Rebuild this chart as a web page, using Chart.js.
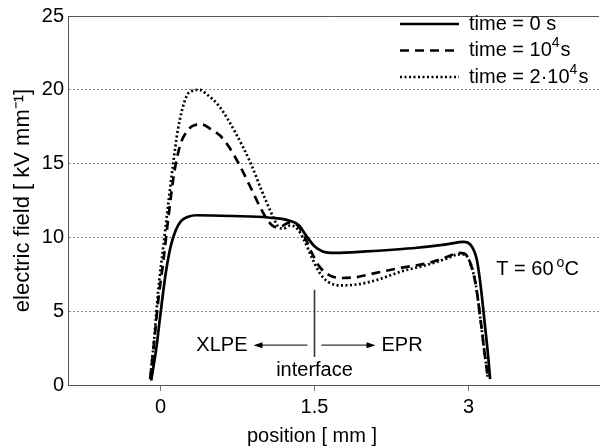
<!DOCTYPE html>
<html>
<head>
<meta charset="utf-8">
<script src="https://cdn.jsdelivr.net/npm/chart.js@4"></script>
<style>
  html, body { margin: 0; padding: 0; background: #fff; }
  #wrap { width: 600px; height: 448px; }
</style>
</head>
<body>
<div id="wrap"><canvas id="fieldChart" width="600" height="448"></canvas></div>
<script>
// field profile across the XLPE / EPR insulation, three instants
const seriesNames = ['time = 0 s', 'time = 10^4s', 'time = 2\u00b710^4s'];

const posT0 = [-0.09, -0.04, 0.0, 0.05, 0.1, 0.15, 0.2, 0.27, 0.35, 0.7, 1.05, 1.25, 1.35, 1.42, 1.5, 1.58, 1.7, 2.0, 2.5, 2.8, 2.95, 3.02, 3.08, 3.12, 3.16, 3.19, 3.21];
const fieldT0 = [0.3, 2.5, 4.8, 7.5, 9.4, 10.5, 11.1, 11.4, 11.5, 11.45, 11.35, 11.15, 10.8, 10.1, 9.4, 9.05, 8.95, 9.05, 9.3, 9.55, 9.7, 9.5, 8.5, 6.6, 4.0, 2.0, 0.4];

const posT1 = [-0.1, -0.06, -0.02, 0.03, 0.08, 0.13, 0.19, 0.26, 0.33, 0.4, 0.5, 0.58, 0.67, 0.77, 0.87, 0.96, 1.05, 1.12, 1.18, 1.25, 1.32, 1.4, 1.47, 1.55, 1.63, 1.75, 1.9, 2.1, 2.35, 2.6, 2.8, 2.9, 2.96, 3.02, 3.07, 3.11, 3.15, 3.19];
const fieldT1 = [0.4, 3.0, 5.8, 8.5, 11.5, 14.2, 16.2, 17.2, 17.6, 17.65, 17.3, 16.9, 16.1, 14.9, 13.5, 12.2, 11.1, 10.7, 10.75, 11.0, 10.9, 10.1, 9.0, 8.0, 7.5, 7.25, 7.3, 7.6, 7.95, 8.25, 8.7, 8.95, 8.9, 8.2, 6.8, 4.8, 2.5, 0.4];

const posT2 = [-0.1, -0.06, -0.02, 0.03, 0.08, 0.12, 0.17, 0.25, 0.32, 0.38, 0.45, 0.57, 0.73, 0.88, 0.99, 1.09, 1.15, 1.2, 1.26, 1.33, 1.4, 1.47, 1.55, 1.63, 1.75, 1.9, 2.1, 2.35, 2.6, 2.8, 2.9, 2.96, 3.02, 3.07, 3.11, 3.15, 3.19];
const fieldT2 = [0.4, 3.2, 6.5, 9.5, 12.5, 14.8, 17.3, 19.5, 19.95, 20.0, 19.7, 18.9, 17.1, 15.0, 13.1, 11.5, 10.7, 10.6, 10.8, 10.6, 9.8, 8.7, 7.6, 7.0, 6.75, 6.8, 7.1, 7.7, 8.15, 8.6, 8.85, 8.85, 8.2, 6.8, 4.8, 2.5, 0.4];

const xTicks = [0, 1.5, 3];
const yTicks = [0, 5, 10, 15, 20, 25];

const FONT = '"Liberation Sans", Arial, sans-serif';
const toPoints = (xs, ys) => xs.map((v, i) => ({ x: v, y: ys[i] }));

// text with "^c" marking a superscript character
function drawRich(ctx, str, x, y, size) {
  const parts = str.split(/\^(\S)/);
  let cx = x;
  parts.forEach((p, i) => {
    if (!p) return;
    const sup = i % 2 === 1;
    ctx.font = (sup ? Math.round(size * 0.68) : size) + 'px ' + FONT;
    ctx.fillText(p, cx, sup ? y - size * 0.35 : y);
    cx += ctx.measureText(p).width + (sup ? 1 : 0);
  });
}

function arrow(ctx, x0, x1, y) {
  const dir = Math.sign(x1 - x0);
  ctx.beginPath();
  ctx.moveTo(x0, y);
  ctx.lineTo(x1 - dir * 8, y);
  ctx.stroke();
  ctx.beginPath();
  ctx.moveTo(x1, y);
  ctx.lineTo(x1 - dir * 9, y - 3);
  ctx.lineTo(x1 - dir * 9, y + 3);
  ctx.closePath();
  ctx.fill();
}

const overlay = {
  id: 'overlay',
  afterDraw(chart) {
    const { ctx, chartArea: a, scales: { x, y } } = chart;
    ctx.save();

    // upper frame line
    ctx.strokeStyle = '#555';
    ctx.lineWidth = 1;
    ctx.beginPath();
    ctx.moveTo(a.left, a.top + 0.5);
    ctx.lineTo(a.right, a.top + 0.5);
    ctx.stroke();

    // legend, top right inside the axes
    ctx.fillStyle = '#000';
    ctx.textBaseline = 'middle';
    chart.data.datasets.forEach((ds, i) => {
      const ly = 24 + i * 26.5;
      ctx.strokeStyle = ds.borderColor;
      ctx.lineWidth = ds.borderWidth;
      ctx.setLineDash(ds.borderDash || []);
      ctx.beginPath();
      ctx.moveTo(400, ly);
      ctx.lineTo(459, ly);
      ctx.stroke();
      ctx.setLineDash([]);
      drawRich(ctx, ds.label, 469, ly, 20);
    });

    // interface marker and material labels
    const ix = x.getPixelForValue(1.5);
    const ay = y.getPixelForValue(2.7);
    ctx.strokeStyle = '#333';
    ctx.fillStyle = '#000';
    ctx.lineWidth = 1.6;
    ctx.beginPath();
    ctx.moveTo(ix, y.getPixelForValue(6.45));
    ctx.lineTo(ix, y.getPixelForValue(1.9));
    ctx.stroke();
    ctx.lineWidth = 1.2;
    arrow(ctx, ix - 7, ix - 61, ay);
    arrow(ctx, ix + 7, ix + 61, ay);

    ctx.font = '20px ' + FONT;
    ctx.textAlign = 'right';
    ctx.fillText('XLPE', ix - 67, ay);
    ctx.textAlign = 'left';
    ctx.fillText('EPR', ix + 67, ay);
    ctx.textAlign = 'center';
    ctx.fillText('interface', ix, y.getPixelForValue(1.0));

    // temperature note
    ctx.textAlign = 'left';
    const ty = y.getPixelForValue(7.85);
    ctx.fillText('T = 60', x.getPixelForValue(3.27), ty);
    const tw = ctx.measureText('T = 60').width;
    ctx.font = '14px ' + FONT;
    ctx.fillText('o', x.getPixelForValue(3.27) + tw + 3, ty - 6);
    ctx.font = '20px ' + FONT;
    ctx.fillText('C', x.getPixelForValue(3.27) + tw + 11, ty);

    // horizontal axis caption
    ctx.textAlign = 'center';
    ctx.fillText('position [ mm ]', 312, 436);
    ctx.restore();
  }
};

new Chart(document.getElementById('fieldChart'), {
  type: 'line',
  data: {
    datasets: [
      { label: seriesNames[0], data: toPoints(posT0, fieldT0), borderColor: '#000', borderWidth: 2.7, borderDash: [] },
      { label: seriesNames[1], data: toPoints(posT1, fieldT1), borderColor: '#000', borderWidth: 2.7, borderDash: [9, 6] },
      { label: seriesNames[2], data: toPoints(posT2, fieldT2), borderColor: '#000', borderWidth: 2.7, borderDash: [2, 2.5] }
    ]
  },
  options: {
    responsive: false,
    animation: false,
    devicePixelRatio: 1,
    layout: { padding: { left: 0, right: 1, top: 12, bottom: 0 } },
    elements: { point: { radius: 0 }, line: { cubicInterpolationMode: 'monotone', fill: false } },
    plugins: { legend: { display: false }, tooltip: { enabled: false } },
    scales: {
      x: {
        type: 'linear',
        min: -0.9,
        max: 4.27,
        afterBuildTicks: s => { s.ticks = xTicks.map(v => ({ value: v })); },
        afterFit: s => { s.height = 63; },
        ticks: { color: '#000', font: { family: FONT, size: 20 }, padding: 4, callback: v => String(v) },
        grid: { drawOnChartArea: false, drawTicks: true, tickLength: 6, tickColor: '#777', color: '#777' },
        border: { display: true, color: '#555', width: 1 }
      },
      y: {
        min: 0,
        max: 25,
        afterBuildTicks: s => { s.ticks = yTicks.map(v => ({ value: v })); },
        afterFit: s => { s.width = 68; },
        ticks: { color: '#000', font: { family: FONT, size: 20 }, padding: 4 },
        grid: {
          drawTicks: false,
          color: c => (c.tick && c.tick.value > 0 && c.tick.value < 25) ? '#8a8a8a' : 'rgba(0,0,0,0)'
        },
        border: { display: true, color: '#555', width: 1, dash: [2, 2] },
        title: {
          display: true,
          text: 'electric field [ kV mm\u207b\u00b9]',
          color: '#000',
          font: { family: FONT, size: 22 },
          padding: { top: 10, bottom: 0 }
        }
      }
    }
  },
  plugins: [overlay]
});
</script>
</body>
</html>
